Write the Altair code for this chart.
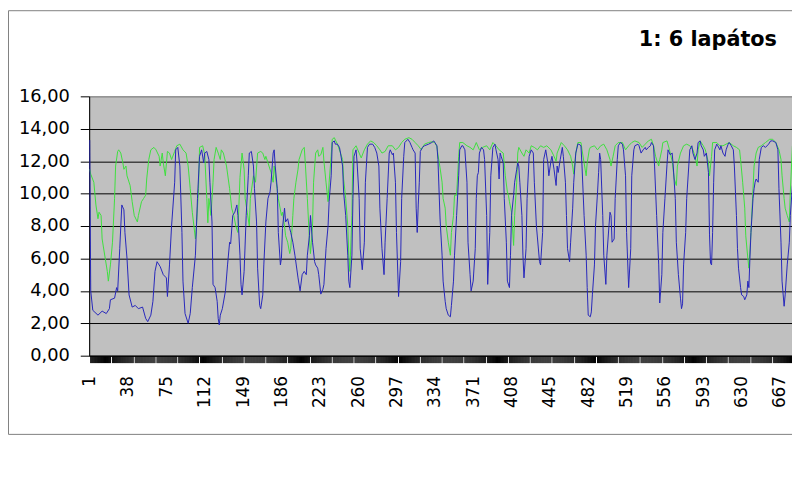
import altair as alt
import pandas as pd

title_text = "1: 6 lapátos"

blue_idx = [1, 2, 4, 9, 13, 17, 20, 21, 25, 27, 28, 30, 32, 34, 35, 37, 39, 42, 45, 48, 52, 55, 57, 60, 62, 64, 66, 69, 72, 75, 76, 78, 80, 83, 84, 86, 88, 90, 91, 93, 96, 98, 100, 103, 105, 107, 109, 111, 112, 114, 116, 117, 119, 120, 122, 124, 125, 126, 127, 129, 132, 134, 136, 137, 139, 141, 143, 144, 146, 147, 148, 150, 152, 154, 155, 157, 159, 160, 162, 163, 165, 166, 168, 169, 171, 173, 175, 176, 178, 179, 180, 182, 183, 185, 186, 187, 189, 190, 192, 194, 195, 197, 199, 202, 204, 206, 208, 210, 211, 213, 214, 216, 218, 219, 221, 222, 224, 226, 227, 229, 231, 232, 234, 235, 237, 238, 240, 242, 243, 245, 246, 248, 250, 251, 252, 254, 255, 256, 258, 259, 261, 262, 264, 266, 267, 269, 271, 274, 276, 278, 280, 281, 283, 285, 286, 288, 290, 291, 293, 294, 296, 297, 299, 301, 302, 304, 305, 308, 310, 312, 313, 315, 316, 317, 318, 319, 320, 322, 324, 328, 331, 333, 334, 336, 337, 339, 341, 342, 344, 345, 347, 349, 350, 352, 353, 355, 357, 358, 360, 361, 363, 365, 366, 368, 369, 371, 373, 374, 375, 376, 377, 379, 381, 382, 384, 385, 387, 388, 390, 392, 393, 395, 396, 397, 398, 400, 401, 403, 404, 406, 407, 408, 410, 411, 413, 414, 415, 416, 418, 419, 420, 422, 423, 425, 427, 429, 430, 432, 435, 436, 438, 439, 441, 443, 444, 446, 447, 448, 449, 451, 452, 453, 455, 457, 458, 460, 461, 462, 464, 465, 467, 468, 470, 472, 473, 475, 476, 478, 480, 481, 482, 484, 485, 486, 488, 489, 491, 492, 493, 494, 496, 497, 499, 500, 502, 503, 504, 505, 507, 508, 510, 511, 513, 515, 516, 518, 519, 521, 523, 524, 526, 527, 530, 531, 533, 535, 537, 538, 540, 542, 543, 545, 546, 548, 550, 551, 553, 554, 556, 558, 559, 561, 563, 564, 566, 567, 569, 571, 572, 573, 574, 576, 577, 579, 580, 582, 583, 585, 587, 588, 590, 591, 593, 594, 596, 598, 599, 600, 601, 602, 603, 604, 606, 607, 609, 610, 612, 614, 615, 617, 618, 620, 622, 623, 625, 626, 627, 629, 630, 632, 633, 635, 636, 637, 638, 639, 641, 642, 643, 644, 646, 647, 649, 651, 653, 656, 658, 660, 663, 665, 666, 668, 669, 671, 672, 674, 676, 677, 679]
blue_val = [13.3, 4.0, 2.8, 2.5, 2.75, 2.6, 2.9, 3.45, 3.55, 4.2, 4.0, 6.6, 9.3, 9.0, 7.6, 6.0, 3.75, 3.0, 3.1, 2.9, 3.0, 2.3, 2.1, 2.5, 3.35, 5.2, 5.8, 5.5, 5.0, 4.8, 3.65, 5.6, 8.0, 10.7, 12.7, 12.85, 11.7, 7.6, 4.6, 2.6, 2.0, 2.6, 4.2, 6.2, 9.7, 12.3, 12.7, 11.9, 12.5, 12.6, 12.1, 10.7, 8.25, 4.4, 4.2, 3.35, 2.3, 1.9, 2.5, 2.9, 4.0, 5.6, 7.0, 6.9, 8.65, 8.85, 9.3, 8.65, 6.2, 4.4, 3.75, 5.2, 8.65, 11.1, 12.5, 12.6, 11.7, 10.3, 8.25, 5.4, 3.1, 2.9, 3.75, 5.6, 8.25, 9.7, 10.1, 10.7, 12.5, 12.7, 11.7, 10.3, 7.6, 5.6, 6.0, 7.85, 9.1, 8.25, 8.45, 7.85, 7.6, 7.0, 6.2, 4.8, 4.0, 5.0, 5.2, 5.0, 6.2, 7.4, 8.65, 7.0, 5.8, 5.6, 5.4, 5.0, 3.8, 4.1, 4.4, 6.6, 8.0, 9.5, 11.1, 13.15, 13.25, 13.05, 13.05, 12.85, 12.5, 11.7, 10.1, 8.65, 6.2, 4.6, 4.2, 6.2, 9.7, 12.3, 12.7, 11.9, 9.7, 6.6, 5.3, 7.0, 10.7, 12.85, 13.05, 13.05, 12.85, 12.5, 11.7, 9.1, 6.6, 5.0, 7.0, 9.7, 12.5, 12.7, 12.4, 12.5, 10.7, 7.6, 3.65, 5.8, 9.7, 12.3, 13.15, 13.35, 13.15, 12.85, 12.7, 12.5, 9.1, 7.6, 9.3, 10.7, 12.6, 12.85, 12.95, 13.05, 13.15, 13.25, 13.15, 12.95, 12.1, 8.5, 6.2, 4.6, 3.35, 2.9, 2.5, 2.4, 3.1, 4.6, 6.2, 8.65, 11.1, 12.7, 12.95, 12.95, 12.7, 10.7, 7.0, 5.0, 4.0, 4.6, 6.6, 9.7, 11.1, 11.3, 12.5, 12.85, 12.7, 12.1, 8.65, 4.4, 7.6, 11.1, 12.85, 13.05, 12.7, 12.1, 10.9, 12.5, 12.3, 11.9, 9.7, 7.0, 4.6, 4.2, 6.2, 8.65, 9.9, 10.7, 11.5, 11.9, 11.7, 10.7, 8.65, 6.2, 4.8, 6.6, 9.7, 12.3, 12.7, 12.5, 10.7, 8.0, 5.8, 5.6, 7.6, 12.1, 12.7, 11.9, 11.1, 12.0, 12.3, 11.9, 11.5, 10.5, 11.7, 11.3, 12.1, 12.85, 12.3, 10.7, 8.65, 6.6, 5.8, 7.0, 9.1, 10.7, 12.5, 13.05, 13.05, 12.95, 11.7, 8.65, 6.2, 4.2, 2.5, 2.4, 2.7, 3.75, 5.6, 8.0, 10.1, 11.3, 12.5, 12.1, 8.65, 6.2, 4.4, 6.2, 8.0, 8.85, 8.65, 7.0, 7.2, 9.7, 12.1, 12.95, 13.15, 13.05, 12.7, 11.1, 7.6, 4.2, 6.6, 11.1, 12.7, 12.95, 13.05, 12.95, 12.5, 12.7, 12.85, 12.7, 12.85, 12.95, 13.15, 12.95, 11.7, 8.65, 5.6, 3.25, 5.0, 7.6, 9.7, 11.8, 12.7, 12.4, 12.5, 11.7, 9.7, 7.0, 5.0, 3.55, 2.9, 3.2, 5.6, 7.6, 9.7, 11.7, 12.7, 12.95, 12.5, 12.1, 12.5, 13.15, 13.25, 12.95, 12.7, 12.3, 12.5, 11.3, 7.5, 5.7, 5.6, 7.6, 10.7, 12.7, 13.05, 12.95, 12.7, 12.95, 12.5, 12.3, 12.7, 13.05, 13.15, 12.95, 12.7, 11.7, 8.65, 6.6, 5.4, 4.2, 3.75, 3.65, 3.45, 3.75, 4.6, 4.2, 6.0, 7.6, 9.7, 10.3, 10.7, 10.9, 10.7, 12.1, 12.85, 12.95, 12.85, 13.05, 13.25, 13.25, 13.15, 12.7, 10.3, 7.0, 4.6, 3.05, 3.75, 5.6, 7.0, 8.65, 10.5]

green_idx = [1, 2, 5, 7, 9, 10, 12, 13, 16, 18, 19, 21, 23, 25, 26, 28, 29, 31, 33, 34, 36, 37, 40, 42, 44, 47, 48, 51, 53, 55, 56, 58, 60, 63, 65, 68, 69, 71, 72, 74, 76, 78, 80, 83, 85, 88, 91, 94, 96, 98, 100, 103, 104, 106, 107, 110, 112, 114, 115, 116, 118, 120, 121, 123, 125, 127, 128, 130, 133, 136, 138, 140, 142, 144, 146, 148, 150, 151, 153, 155, 156, 159, 161, 163, 166, 168, 170, 171, 174, 176, 178, 179, 181, 183, 186, 187, 189, 190, 192, 194, 195, 197, 198, 200, 202, 203, 206, 208, 209, 211, 213, 214, 216, 217, 219, 221, 222, 224, 226, 227, 229, 231, 232, 234, 235, 237, 240, 243, 245, 246, 248, 250, 251, 252, 254, 255, 258, 261, 263, 266, 269, 272, 275, 278, 281, 283, 286, 289, 293, 296, 299, 302, 305, 309, 312, 315, 318, 321, 324, 328, 331, 334, 336, 337, 339, 341, 342, 344, 345, 347, 349, 350, 352, 353, 355, 357, 358, 361, 365, 368, 371, 374, 377, 380, 384, 387, 390, 393, 396, 400, 402, 404, 405, 406, 408, 409, 410, 411, 413, 414, 415, 418, 420, 422, 425, 427, 430, 433, 436, 439, 442, 446, 449, 451, 452, 456, 459, 462, 465, 467, 468, 470, 472, 475, 476, 478, 480, 481, 483, 484, 488, 491, 494, 497, 500, 503, 504, 506, 508, 511, 515, 518, 521, 524, 527, 531, 534, 537, 540, 543, 545, 547, 550, 551, 553, 554, 558, 560, 563, 565, 567, 568, 571, 574, 577, 580, 583, 585, 587, 588, 590, 593, 595, 598, 599, 601, 602, 606, 609, 612, 615, 618, 622, 625, 628, 629, 631, 633, 634, 636, 637, 639, 641, 642, 644, 646, 649, 653, 657, 660, 663, 666, 668, 669, 671, 672, 674, 676, 677, 679]
green_val = [11.5, 11.2, 10.7, 9.3, 8.45, 8.85, 8.65, 7.2, 6.0, 5.2, 4.6, 5.6, 7.0, 9.7, 11.7, 12.6, 12.7, 12.5, 11.9, 11.5, 11.7, 11.1, 10.5, 9.5, 8.65, 8.25, 8.65, 9.5, 9.7, 9.9, 10.9, 12.1, 12.7, 12.85, 12.7, 12.3, 11.7, 12.5, 11.9, 11.1, 12.6, 12.5, 12.1, 12.6, 12.95, 13.05, 12.7, 12.5, 11.7, 10.3, 8.85, 7.2, 8.0, 10.3, 12.85, 12.95, 12.4, 9.7, 8.2, 9.7, 8.65, 10.7, 12.1, 12.85, 12.5, 12.1, 12.7, 12.5, 11.7, 10.3, 9.1, 8.65, 8.0, 7.6, 11.0, 12.5, 11.5, 9.7, 8.85, 8.0, 9.7, 11.1, 10.7, 12.5, 12.6, 12.5, 12.1, 12.3, 11.7, 11.3, 10.7, 11.7, 10.7, 9.7, 8.65, 8.85, 8.0, 7.4, 7.0, 6.3, 6.6, 8.65, 9.7, 10.7, 11.5, 12.1, 12.7, 12.85, 11.9, 9.7, 7.2, 6.3, 8.0, 10.7, 12.5, 12.7, 12.3, 12.4, 12.85, 12.0, 10.7, 9.5, 10.7, 12.3, 13.35, 13.45, 13.05, 12.5, 12.1, 10.9, 9.7, 8.0, 6.2, 5.2, 8.65, 12.7, 12.95, 12.5, 12.2, 12.7, 13.05, 13.25, 13.15, 12.95, 12.7, 12.5, 12.6, 12.95, 12.95, 12.7, 12.85, 13.15, 13.35, 13.45, 13.35, 13.15, 12.95, 12.7, 13.05, 13.15, 13.2, 13.15, 12.9, 12.4, 11.6, 10.7, 9.7, 9.1, 8.0, 7.0, 6.2, 7.6, 8.65, 9.9, 9.9, 12.3, 13.15, 13.15, 12.95, 12.85, 12.7, 13.15, 12.7, 12.85, 12.95, 12.7, 13.15, 12.95, 12.7, 12.5, 11.1, 10.1, 9.9, 9.5, 8.85, 7.85, 6.8, 8.65, 10.7, 12.5, 12.85, 12.5, 12.3, 12.7, 12.5, 12.95, 12.85, 12.7, 12.95, 12.85, 12.95, 12.7, 12.3, 12.0, 12.5, 13.15, 12.95, 12.7, 12.3, 11.7, 11.2, 12.5, 13.15, 13.15, 12.7, 11.9, 11.1, 11.9, 12.7, 12.85, 12.95, 12.7, 12.95, 13.05, 12.7, 12.1, 11.7, 12.3, 12.95, 13.15, 13.15, 12.7, 12.95, 13.15, 13.25, 13.15, 12.85, 13.05, 13.25, 13.35, 12.95, 12.3, 11.7, 12.1, 12.7, 13.15, 13.25, 12.8, 12.0, 10.9, 10.5, 11.7, 12.5, 12.95, 13.05, 12.95, 12.7, 12.3, 11.7, 12.7, 13.25, 12.95, 12.7, 11.9, 11.1, 12.3, 13.15, 13.15, 12.95, 12.95, 13.05, 13.15, 12.95, 12.85, 12.7, 12.1, 10.7, 9.1, 7.4, 6.0, 5.4, 7.6, 10.3, 11.7, 12.5, 12.85, 12.95, 13.15, 13.35, 13.35, 13.15, 12.7, 12.1, 11.1, 9.7, 9.1, 8.65, 8.25, 10.1, 12.95]

x_label_values = [1, 38, 75, 112, 149, 186, 223, 260, 297, 334, 371, 408, 445, 482, 519, 556, 593, 630, 667]
y_tick_values = [0, 2, 4, 6, 8, 10, 12, 14, 16]
n_points = 678

blue_df = pd.DataFrame({"pont": blue_idx, "ertek": blue_val})
green_df = pd.DataFrame({"pont": green_idx, "ertek": green_val})

label_set = ",".join(str(v) for v in x_label_values)
x_scale = alt.Scale(domain=[0.5, n_points + 0.6], nice=False, zero=False)
y_scale = alt.Scale(domain=[0, 16], nice=False, zero=True)

x_axis = alt.Axis(
    values=list(range(1, n_points + 1)),
    labelExpr="indexof([" + label_set + "], datum.value) >= 0 ? datum.label : ''",
    labelAngle=270,
    labelOverlap=False,
    labelFont="DejaVu Sans",
    labelFontSize=17,
    labelColor="#000000",
    labelPadding=13,
    tickSize=7,
    tickColor="#000000",
    tickWidth=1,
    domainColor="#000000",
    grid=False,
    title=None,
)
y_axis = alt.Axis(
    values=y_tick_values,
    labelExpr="replace(format(datum.value, '.2f'), '.', ',')",
    labelFont="DejaVu Sans",
    labelFontSize=18,
    labelColor="#000000",
    labelPadding=11,
    labelOverlap=False,
    tickSize=9,
    tickColor="#000000",
    domainColor="#000000",
    grid=True,
    gridColor={"condition": {"test": "datum.value >= 16", "value": "#8a8a8a"}, "value": "#000000"},
    gridWidth=1,
    title=None,
)

green_line = alt.Chart(green_df).mark_line(color="#3ee03e", strokeWidth=1, clip=True).encode(
    x=alt.X("pont:Q", scale=x_scale, axis=x_axis),
    y=alt.Y("ertek:Q", scale=y_scale, axis=y_axis),
)
blue_line = alt.Chart(blue_df).mark_line(color="#2626bb", strokeWidth=1, clip=True).encode(
    x=alt.X("pont:Q", scale=x_scale, axis=x_axis),
    y=alt.Y("ertek:Q", scale=y_scale, axis=y_axis),
)

frame = alt.Chart(pd.DataFrame({"k": [0]})).mark_rect(
    filled=False, stroke="#808080", strokeWidth=1
).encode(
    x=alt.value(-81.5), x2=alt.value(730), y=alt.value(-86.5), y2=alt.value(341.5)
)

title = alt.Chart(pd.DataFrame({"t": [title_text]})).mark_text(
    font="DejaVu Sans", fontWeight="bold", fontSize=21, align="center", baseline="middle", color="#000000"
).encode(x=alt.value(625), y=alt.value(-57), text="t:N")

chart = alt.layer(frame, green_line, blue_line, title).properties(
    width=710,
    height=262,
    padding={"left": 82, "top": 87, "right": 0, "bottom": 90},
    autosize=alt.AutoSizeParams(type="none"),
    background="#ffffff",
).configure_view(fill="#c0c0c0", stroke="#8a8a8a", strokeWidth=1)

chart.save("out.html", embed_options={"renderer": "svg", "actions": False})
